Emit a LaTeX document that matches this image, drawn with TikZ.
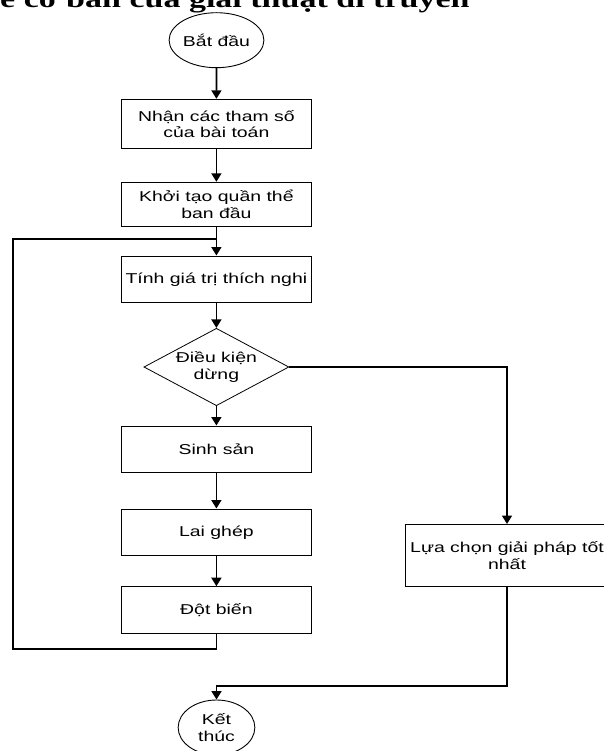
\documentclass[tikz,border=0pt]{standalone}
\usepackage{fontspec}
\setmainfont[FakeStretch=1.36]{Liberation Sans}
\newfontfamily\titlefont[FakeStretch=1.36]{Liberation Serif}
\usetikzlibrary{shapes.geometric,arrows.meta}
\begin{document}
\begin{tikzpicture}[x=1pt,y=-1pt,
  every node/.style={font=\fontsize{14.3pt}{16.5pt}\selectfont, align=center, inner sep=0pt},
  procbox/.style={draw, line width=1pt, minimum width=189.3pt},
  termnode/.style={draw, ellipse, line width=0.9pt, minimum width=76.7pt, minimum height=55pt},
  decbox/.style={draw, diamond, line width=0.8pt, minimum width=145pt, minimum height=77.4pt},
  conn/.style={line width=1.7pt},
  arr/.style={conn, -{Triangle[length=8.5pt,width=10pt]}}]
\useasboundingbox (0,0) rectangle (604,751);
\clip (0,0) rectangle (604,751);

% title (cut at the top of the picture, as in the reference)
\node[anchor=base west, font=\titlefont\bfseries\fontsize{25pt}{30pt}\selectfont] (title) at (0,8) {e cơ bản của giải thuật di truyền};

% nodes
\node[termnode] (start) at (216.5,40.2) {Bắt đầu};
\node[procbox, minimum height=49.7pt] (b1) at (216.4,124.15) {Nhận các tham số\\của bài toán};
\node[procbox, minimum height=44.4pt] (b2) at (216.4,204.5) {Khởi tạo quần thể\\ban đầu};
\node[procbox, minimum height=46.7pt] (b3) at (216.4,279.35) {Tính giá trị thích nghi};
\node[decbox] (d) at (216.4,367) {};
\node (dtext) at (d.center) {Điều kiện\\dừng};
\node[procbox, minimum height=46.7pt] (b4) at (216.4,449.35) {Sinh sản};
\node[procbox, minimum height=46.7pt] (b5) at (216.4,532.35) {Lai ghép};
\node[procbox, minimum height=46.6pt] (b6) at (216.4,610) {Đột biến};
\node[draw, line width=1pt, minimum width=203.4pt, minimum height=62.2pt] (best) at (507,555.6) {Lựa chọn giải pháp tốt\\nhất};
\node[termnode] (end) at (216.5,727.5) {Kết\\thúc};

% helper coordinates
\coordinate (lb) at (216.4,649.3);
\coordinate (ll) at (12.7,649.3);
\coordinate (lt) at (12.7,239);
\coordinate (lj) at (216.4,239);
\coordinate (rt) at (507,367);
\coordinate (rb) at (507,685.7);
\coordinate (eb) at (216.5,685.7);

% connectors
\draw[arr] (start.south) -- (b1.north);
\draw[arr] (b1.south) -- (b2.north);
\draw[arr] (b2.south) -- (b3.north);
\draw[arr] (b3.south) -- (d.north);
\draw[arr] (d.south) -- (b4.north);
\draw[arr] (b4.south) -- (b5.north);
\draw[arr] (b5.south) -- (b6.north);
\draw[conn] (b6.south) -- (lb) -- (ll) -- (lt) -- (lj);
\draw[arr] (d.east) -- (rt) -- (best.north);
\draw[arr] (best.south) -- (rb) -- (eb) -- (end.north);
\end{tikzpicture}
\end{document}
